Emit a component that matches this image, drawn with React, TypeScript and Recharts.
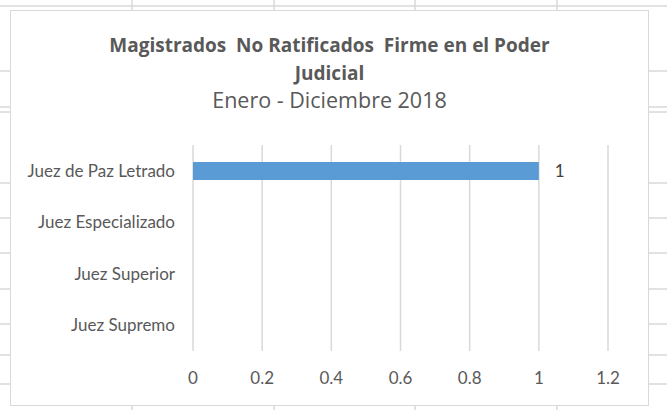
import React from 'react';
import { BarChart, Bar, XAxis, YAxis, CartesianGrid, LabelList } from 'recharts';

const categories = ['Juez de Paz Letrado', 'Juez Especializado', 'Juez Superior', 'Juez Supremo'];
const values: (number | null)[] = [1, null, null, null];
const xTicks = [0, 0.2, 0.4, 0.6, 0.8, 1, 1.2];
const titleLine1 = 'Magistrados\u00a0 No Ratificados\u00a0 Firme en el Poder';
const titleLine2 = 'Judicial';
const subtitle = 'Enero - Diciembre 2018';

const bgHLines = [6, 71, 107, 112, 183, 218, 253, 289, 324, 355, 384];
const bgVLines = [132, 274, 415, 557];

const data = categories.map((c, i) => ({ name: c, value: values[i] }));

const AXIS_FONT = 'Lato, sans-serif';
const TITLE_FONT = '"Open Sans", sans-serif';
const GRAY = '#d9d9d9';
const TEXT = '#595959';

export default function App() {
  return (
    <div style={{ position: 'absolute', left: 0, top: 0, width: 667, height: 410, background: '#fff', overflow: 'hidden' }}>
      <svg width={667} height={410} style={{ position: 'absolute', left: 0, top: 0 }}>
        {bgHLines.map((y) => (
          <line key={'h' + y} x1={0} x2={667} y1={y} y2={y} stroke={GRAY} strokeWidth={1.5} />
        ))}
        {bgVLines.map((x) => (
          <line key={'v' + x} x1={x} x2={x} y1={0} y2={410} stroke={GRAY} strokeWidth={1.5} />
        ))}
      </svg>
      <div
        style={{
          position: 'absolute',
          left: 10,
          top: 10,
          width: 637,
          height: 394,
          background: '#fff',
          border: `1.5px solid ${GRAY}`,
          boxSizing: 'content-box',
        }}
      >
        <div style={{ position: 'absolute', left: 0, width: 637, top: 21, textAlign: 'center', fontFamily: TITLE_FONT, color: TEXT, fontWeight: 700, fontSize: 19, lineHeight: '26px', whiteSpace: 'pre' }}>
          {titleLine1}
        </div>
        <div style={{ position: 'absolute', left: 0, width: 637, top: 49, textAlign: 'center', fontFamily: TITLE_FONT, color: TEXT, fontWeight: 700, fontSize: 19, lineHeight: '26px' }}>
          {titleLine2}
        </div>
        <div style={{ position: 'absolute', left: 0, width: 637, top: 74, textAlign: 'center', fontFamily: TITLE_FONT, color: TEXT, fontWeight: 400, fontSize: 21.5, lineHeight: '30px' }}>
          {subtitle}
        </div>
        <div style={{ position: 'absolute', left: 0, top: 0 }}>
          <BarChart
            width={637}
            height={394}
            data={data}
            layout="vertical"
            margin={{ top: 134, right: 40, bottom: 0, left: 0 }}
          >
            <CartesianGrid horizontal={false} stroke={GRAY} strokeWidth={1.5} />
            <XAxis
              type="number"
              domain={[0, 1.2]}
              ticks={xTicks}
              axisLine={false}
              tickLine={false}
              tickSize={0}
              tickMargin={21}
              interval={0}
              tick={{ fill: TEXT, fontSize: 17, fontFamily: AXIS_FONT }}
              height={54}
            />
            <YAxis
              type="category"
              dataKey="name"
              width={182}
              axisLine={false}
              tickLine={false}
              tickSize={0}
              tickMargin={18}
              interval={0}
              tick={{ fill: TEXT, fontSize: 17, fontFamily: AXIS_FONT }}
            />
            <Bar dataKey="value" fill="#5b9bd5" barSize={18} isAnimationActive={false}>
              <LabelList
                dataKey="value"
                position="right"
                offset={16}
                fill="#404040"
                fontSize={17}
                fontFamily={AXIS_FONT}
              />
            </Bar>
          </BarChart>
        </div>
      </div>
    </div>
  );
}
